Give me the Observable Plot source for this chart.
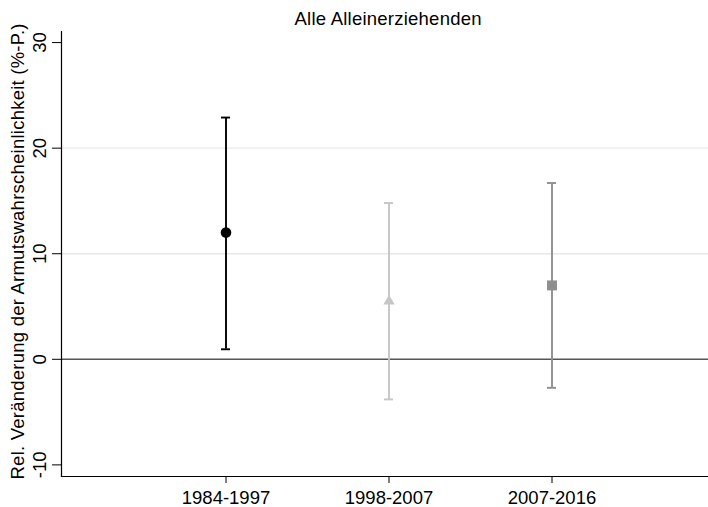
<!DOCTYPE html>
<html>
<head>
<meta charset="utf-8">
<script src="https://cdn.jsdelivr.net/npm/d3@7"></script>
<script src="https://cdn.jsdelivr.net/npm/@observablehq/plot@0.6"></script>
<style>
  html, body { margin: 0; padding: 0; background: #ffffff; }
</style>
</head>
<body>
<div id="chart"></div>
<script>
const titleText = "Alle Alleinerziehenden";
const yLabel = "Rel. Veränderung der Armutswahrscheinlichkeit (%-P.)";
const periods = ["1984-1997", "1998-2007", "2007-2016"];
const estimates = [12.0, 5.5, 7.0];
const lowerCI = [0.95, -3.8, -2.7];
const upperCI = [22.9, 14.8, 16.7];
const seriesColors = ["#000000", "#c6c6c6", "#8e8e8e"];
const seriesSymbols = ["circle", "triangle", "square"];
const seriesRadius = [5.3, 4.2, 5.6];
const yTicks = [-10, 0, 10, 20, 30];
const gridTicks = [10, 20];
const yDomain = [-11.1, 31.05];

const rows = periods.map((p, i) => ({
  period: p, est: estimates[i], lo: lowerCI[i], hi: upperCI[i],
  color: seriesColors[i], symbol: seriesSymbols[i], r: seriesRadius[i]
}));

const font = "Liberation Sans, Arial, Helvetica, sans-serif";
const fs = 18.5;

const dotMarks = rows.map(d => Plot.dot([d], {
  x: "period", y: "est", fill: d.color, stroke: "none", symbol: d.symbol, r: d.r
}));

const chart = Plot.plot({
  width: 708,
  height: 507,
  marginLeft: 61,
  marginRight: 0,
  marginTop: 31,
  marginBottom: 31,
  style: { fontFamily: font, fontSize: fs + "px", color: "#000", background: "#fff" },
  x: { type: "band", domain: periods, range: [142.3, 634.3], padding: 0, label: null },
  y: { domain: yDomain, label: null },
  marks: [
    Plot.ruleY(gridTicks, { stroke: "#e8e8e8", strokeWidth: 1.3 }),
    Plot.ruleY([0], { stroke: "#555555", strokeWidth: 1.4 }),
    Plot.ruleX(rows, { x: "period", y1: "lo", y2: "hi", stroke: d => d.color, strokeWidth: 1.9 }),
    Plot.tickY(rows, { x: "period", y: "hi", stroke: d => d.color, strokeWidth: 1.9, insetLeft: 77, insetRight: 77 }),
    Plot.tickY(rows, { x: "period", y: "lo", stroke: d => d.color, strokeWidth: 1.9, insetLeft: 77, insetRight: 77 }),
    ...dotMarks,
    Plot.frame({ anchor: "left", stroke: "#000", strokeWidth: 1.2 }),
    Plot.frame({ anchor: "bottom", stroke: "#000", strokeWidth: 1.2 }),
    Plot.axisX({ tickSize: 7, tickPadding: 7, fontSize: fs, label: null, stroke: "#000" }),
    Plot.axisY({ ticks: yTicks, tickSize: 9, tickFormat: () => "", label: null, stroke: "#000" }),
    Plot.text(yTicks, { y: d => d, text: d => String(d), frameAnchor: "left", rotate: -90,
      textAnchor: "middle", lineAnchor: "bottom", dx: -16, fontSize: fs, fill: "#000" }),
    Plot.text([yLabel], { text: d => d, frameAnchor: "left", rotate: -90,
      textAnchor: "middle", lineAnchor: "bottom", dx: -38, dy: -2.5, fontSize: fs, fill: "#000" }),
    Plot.text([titleText], { text: d => d, frameAnchor: "top", lineAnchor: "bottom",
      dx: 3, dy: -7, fontSize: fs, fill: "#000" })
  ]
});
// match the reference's text run lengths
d3.select(chart).selectAll("text").each(function() {
  if (this.textContent === yLabel) {
    d3.select(this).attr("textLength", 456).attr("lengthAdjust", "spacing");
  } else if (this.textContent === titleText) {
    d3.select(this).attr("textLength", 187).attr("lengthAdjust", "spacing");
  }
});
document.getElementById("chart").appendChild(chart);
</script>
</body>
</html>
